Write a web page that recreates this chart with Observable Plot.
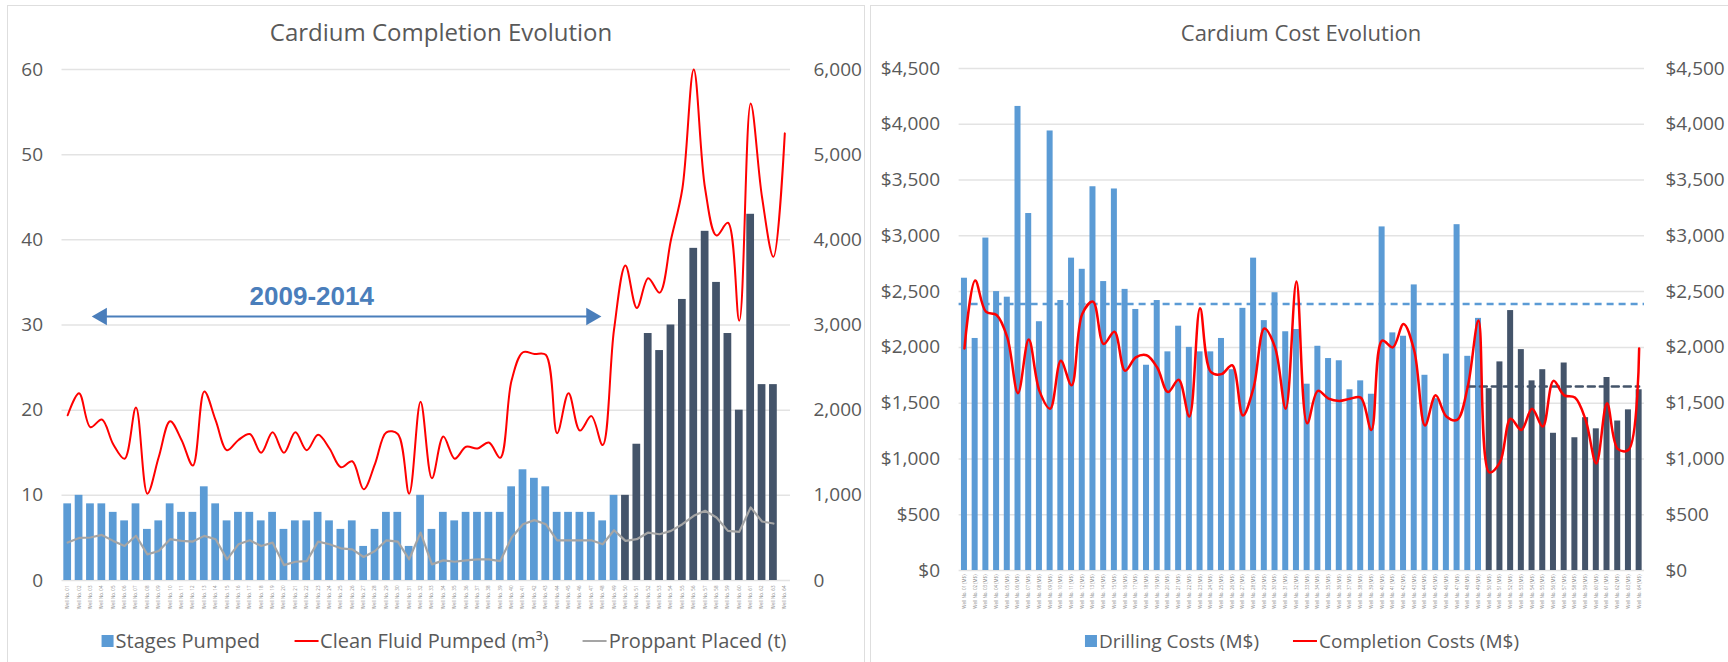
<!DOCTYPE html>
<html><head><meta charset="utf-8">
<script src="https://cdn.jsdelivr.net/npm/d3@7"></script>
<script src="https://cdn.jsdelivr.net/npm/@observablehq/plot@0.6"></script>
<style>
body{margin:0;background:#fff;width:1728px;height:662px;overflow:hidden;font-family:"Open Sans",sans-serif;position:relative}
.panel{position:absolute;top:5px;height:670px;border:1.5px solid #dedede;box-sizing:border-box;background:#fff}
.chart{position:absolute;top:0}
.title{position:absolute;top:17px;color:#595959;transform:translateX(-50%);white-space:nowrap;line-height:30px}
.legend{position:absolute;top:629px;transform:translateX(-50%);display:flex;align-items:center;color:#595959;white-space:nowrap;line-height:24px}
.legend .item{display:flex;align-items:center;margin:0 17px}
.sw{display:inline-block;width:12px;height:12px;margin-right:2px}
.ln{display:inline-block;width:24px;height:2.5px;margin-right:2px}
</style></head>
<body>
<div class="panel" style="left:7px;width:858px"></div>
<div class="panel" style="left:870px;width:870px"></div>
<div id="left" class="chart" style="left:0"></div>
<div id="right" class="chart" style="left:864px"></div>
<div class="title" style="left:441px;font-size:24px">Cardium Completion Evolution</div>
<div class="title" style="left:1301px;font-size:22px">Cardium Cost Evolution</div>
<div class="legend" style="left:444px;font-size:20px">
  <div class="item"><span class="sw" style="background:#5b9bd5"></span>Stages Pumped</div>
  <div class="item"><span class="ln" style="background:#ff0000"></span>Clean Fluid Pumped (m³)</div>
  <div class="item"><span class="ln" style="background:#a5a5a5"></span>Proppant Placed (t)</div>
</div>
<div class="legend" style="left:1302px;font-size:19px">
  <div class="item"><span class="sw" style="background:#5b9bd5"></span>Drilling Costs (M$)</div>
  <div class="item"><span class="ln" style="background:#ff0000"></span>Completion Costs (M$)</div>
</div>
<script>
// ---------- Left chart data ----------
const completionLabels = ["Well No. 01","Well No. 02","Well No. 03","Well No. 04","Well No. 05","Well No. 06","Well No. 07","Well No. 08","Well No. 09","Well No. 10","Well No. 11","Well No. 12","Well No. 13","Well No. 14","Well No. 15","Well No. 16","Well No. 17","Well No. 18","Well No. 19","Well No. 20","Well No. 21","Well No. 22","Well No. 23","Well No. 24","Well No. 25","Well No. 26","Well No. 27","Well No. 28","Well No. 29","Well No. 30","Well No. 31","Well No. 32","Well No. 33","Well No. 34","Well No. 35","Well No. 36","Well No. 37","Well No. 38","Well No. 39","Well No. 40","Well No. 41","Well No. 42","Well No. 43","Well No. 44","Well No. 45","Well No. 46","Well No. 47","Well No. 48","Well No. 49","Well No. 50","Well No. 51","Well No. 52","Well No. 53","Well No. 54","Well No. 55","Well No. 56","Well No. 57","Well No. 58","Well No. 59","Well No. 60","Well No. 61","Well No. 62","Well No. 63","Well No. 64"];
const stages2009 = [9,10,9,9,8,7,9,6,7,9, 8,8,11,9,7,8,8,7,8,6, 7,7,8,7,6,7,4,6,8,8, 4,10,6,8,7,8,8,8,8,11, 13,12,11,8,8,8,8,7,10];
const stages2015 = [10,16,29,27,30,33,39,41,35,29,20,43,23,23];
const cleanFluid = [1940,2200,1800,1890,1600,1430,2030,1020,1450,1870, 1650,1350,2220,1880,1530,1650,1720,1500,1740,1500, 1740,1530,1710,1550,1330,1400,1070,1370,1740,1720, 1020,2100,1200,1690,1430,1570,1550,1620,1440,2350, 2680,2660,2650,1730,2200,1760,1930,1590,2950,3700, 3200,3550,3380,4000,4600,6000,4600,4050,4200,3050, 5600,4500,3800,5250];
const proppant = [445,500,505,535,465,405,525,307,346,485, 465,457,524,484,248,425,472,405,445,181, 220,228,457,425,378,366,276,346,472,457, 248,563,189,236,220,236,248,248,228,504, 661,709,661,472,472,472,472,425,590,465, 485,563,543,583,661,760,819,740,583,571, 858,693,669];
const stageTicks = [0,10,20,30,40,50,60];
const fluidTickLabels = ["0","1,000","2,000","3,000","4,000","5,000","6,000"];
const periodLabel = "2009-2014";
const periodArrowFrom = 3, periodArrowTo = 46, periodArrowLevel = 31, periodTextAt = 21, periodTextLevel = 33.3;

// ---------- Right chart data ----------
const costLabels = ["Well No. 01 (M$)","Well No. 02 (M$)","Well No. 03 (M$)","Well No. 04 (M$)","Well No. 05 (M$)","Well No. 06 (M$)","Well No. 07 (M$)","Well No. 08 (M$)","Well No. 09 (M$)","Well No. 10 (M$)","Well No. 11 (M$)","Well No. 12 (M$)","Well No. 13 (M$)","Well No. 14 (M$)","Well No. 15 (M$)","Well No. 16 (M$)","Well No. 17 (M$)","Well No. 18 (M$)","Well No. 19 (M$)","Well No. 20 (M$)","Well No. 21 (M$)","Well No. 22 (M$)","Well No. 23 (M$)","Well No. 24 (M$)","Well No. 25 (M$)","Well No. 26 (M$)","Well No. 27 (M$)","Well No. 28 (M$)","Well No. 29 (M$)","Well No. 30 (M$)","Well No. 31 (M$)","Well No. 32 (M$)","Well No. 33 (M$)","Well No. 34 (M$)","Well No. 35 (M$)","Well No. 36 (M$)","Well No. 37 (M$)","Well No. 38 (M$)","Well No. 39 (M$)","Well No. 40 (M$)","Well No. 41 (M$)","Well No. 42 (M$)","Well No. 43 (M$)","Well No. 44 (M$)","Well No. 45 (M$)","Well No. 46 (M$)","Well No. 47 (M$)","Well No. 48 (M$)","Well No. 49 (M$)","Well No. 50 (M$)","Well No. 51 (M$)","Well No. 52 (M$)","Well No. 53 (M$)","Well No. 54 (M$)","Well No. 55 (M$)","Well No. 56 (M$)","Well No. 57 (M$)","Well No. 58 (M$)","Well No. 59 (M$)","Well No. 60 (M$)","Well No. 61 (M$)","Well No. 62 (M$)","Well No. 63 (M$)","Well No. 64 (M$)"];
const drilling2009 = [2620,2080,2980,2500,2450,4160,3200,2230,3940,2420, 2800,2700,3440,2590,3420,2520,2340,1840,2420,1960, 2190,2000,1960,1960,2080,1800,2350,2800,2240,2490, 2140,2160,1670,2010,1900,1880,1620,1700,1580,3080, 2130,2100,2560,1750,1540,1940,3100,1920,2260];
const drilling2015 = [1630,1870,2330,1980,1700,1800,1230,1860,1190,1370,1270,1730,1340,1440,1620];
const completionCosts = [1990,2600,2320,2290,2090,1590,2070,1610,1450,1880, 1660,2300,2410,2030,2140,1790,1910,1930,1820,1600, 1710,1380,2350,1780,1760,1840,1390,1640,2170,2000, 1450,2590,1320,1610,1540,1520,1540,1550,1260,2060, 2000,2210,1970,1300,1570,1380,1350,1650,2240,880, 970,1360,1260,1450,1290,1700,1570,1550,1350,960, 1500,1090,1080,1990];
const drillingAvg2009 = 2390;
const drillingAvg2015 = 1650;
const avg2015From = 47;
const costTicks = [0,500,1000,1500,2000,2500,3000,3500,4000,4500];
const costTickLabels = ["$0","$500","$1,000","$1,500","$2,000","$2,500","$3,000","$3,500","$4,000","$4,500"];

const LIGHT = "#5b9bd5", DARK = "#44546a", RED = "#ff0000", GRAY = "#a5a5a5", GRID = "#e3e3e3", ANNOT = "#4a7ebb";

// ---------- Build tables ----------
const stageRows = stages2009.map((v, i) => ({label: completionLabels[i], value: v, period: "a"}))
  .concat(stages2015.map((v, i) => ({label: completionLabels[stages2009.length + i], value: v, period: "b"})));
const fluidRows = cleanFluid.map((v, i) => ({label: completionLabels[i], value: v}));
const proppantRows = proppant.map((v, i) => ({label: completionLabels[i], value: v}));

const drillRows = drilling2009.map((v, i) => ({label: costLabels[i], value: v, period: "a"}))
  .concat(drilling2015.map((v, i) => ({label: costLabels[drilling2009.length + i], value: v, period: "b"})));
const complRows = completionCosts.map((v, i) => ({label: costLabels[i], value: v}));

const baseStyle = {fontFamily: "'Open Sans', sans-serif", fontSize: "19px", color: "#595959", background: "transparent", overflow: "visible"};

const left = Plot.plot({
  width: 864, height: 662,
  marginLeft: 61.5, marginRight: 74, marginTop: 69, marginBottom: 82,
  style: baseStyle,
  x: {type: "band", domain: completionLabels, paddingInner: 0.32, paddingOuter: 0.16, round: false},
  y: {domain: [0, 60]},
  color: {domain: ["a", "b"], range: [LIGHT, DARK]},
  marks: [
    Plot.gridY(stageTicks, {stroke: GRID, strokeOpacity: 1, strokeWidth: 1.5}),
    Plot.axisY(stageTicks, {anchor: "left", tickSize: 0, tickPadding: 19, fontSize: 19}),
    Plot.axisY(stageTicks, {anchor: "right", tickSize: 0, tickPadding: 23, fontSize: 19, tickFormat: (d, i) => fluidTickLabels[i]}),
    Plot.axisX({anchor: "bottom", tickSize: 0, tickPadding: 5, tickRotate: -90, fontSize: 4.5, fill: "#8a8a8a", label: null}),
    Plot.barY(stageRows, {x: "label", y: "value", fill: "period"}),
    Plot.line(proppantRows, {x: "label", y: d => d.value / 100, stroke: GRAY, strokeWidth: 2.2}),
    Plot.line(fluidRows, {x: "label", y: d => d.value / 100, stroke: RED, strokeWidth: 2, curve: "catmull-rom"}),
    Plot.line([{label: completionLabels[periodArrowFrom], v: periodArrowLevel}, {label: completionLabels[periodArrowTo], v: periodArrowLevel}],
      {x: "label", y: "v", stroke: ANNOT, strokeWidth: 2.2}),
    Plot.dot([{label: completionLabels[periodArrowFrom], v: periodArrowLevel, rot: -90}, {label: completionLabels[periodArrowTo], v: periodArrowLevel, rot: 90}],
      {x: "label", y: "v", symbol: "triangle", r: 6.5, fill: ANNOT, stroke: "none", rotate: "rot"}),
    Plot.text([{label: completionLabels[periodTextAt], v: periodTextLevel}],
      {x: "label", y: "v", text: () => periodLabel, fill: ANNOT, fontSize: 26, fontWeight: "bold", dx: 5,
       fontFamily: "'Liberation Sans Narrow', 'Liberation Sans', sans-serif"})
  ]
});
document.getElementById("left").appendChild(left);

const right = Plot.plot({
  width: 864, height: 662,
  marginLeft: 94.6, marginRight: 84, marginTop: 68, marginBottom: 92,
  style: baseStyle,
  x: {type: "band", domain: costLabels, paddingInner: 0.44, paddingOuter: 0.22, round: false},
  y: {domain: [0, 4500]},
  color: {domain: ["a", "b"], range: [LIGHT, DARK]},
  marks: [
    Plot.gridY(costTicks, {stroke: GRID, strokeOpacity: 1, strokeWidth: 1.5}),
    Plot.axisY(costTicks, {anchor: "left", tickSize: 0, tickPadding: 19, fontSize: 19, tickFormat: (d, i) => costTickLabels[i]}),
    Plot.axisY(costTicks, {anchor: "right", tickSize: 0, tickPadding: 21, fontSize: 19, tickFormat: (d, i) => costTickLabels[i]}),
    Plot.axisX({anchor: "bottom", tickSize: 0, tickPadding: 4, tickRotate: -90, fontSize: 4.5, fill: "#8a8a8a", label: null}),
    Plot.barY(drillRows, {x: "label", y: "value", fill: "period"}),
    Plot.ruleY([drillingAvg2009], {stroke: LIGHT, strokeWidth: 2.5, strokeDasharray: "7,5"}),
    Plot.line([{label: costLabels[avg2015From], v: drillingAvg2015}, {label: costLabels[costLabels.length - 1], v: drillingAvg2015}],
      {x: "label", y: "v", stroke: DARK, strokeWidth: 2.5, strokeDasharray: "7,5"}),
    Plot.line(complRows, {x: "label", y: "value", stroke: RED, strokeWidth: 2.5, curve: "catmull-rom"})
  ]
});
document.getElementById("right").appendChild(right);
</script>
</body></html>
